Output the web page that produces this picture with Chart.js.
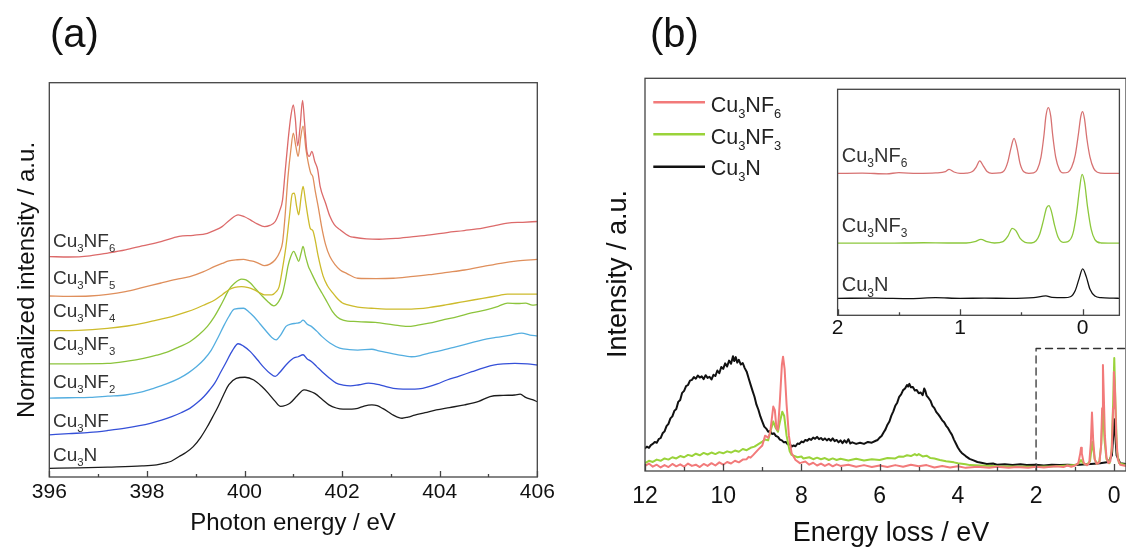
<!DOCTYPE html>
<html>
<head>
<meta charset="utf-8">
<script src="https://cdn.jsdelivr.net/npm/chart.js@4.4.1/dist/chart.umd.min.js"></script>
<style>
  html, body { margin: 0; padding: 0; background: #fff; overflow: hidden; width: 1126px; height: 550px; }
  canvas { position: absolute; }
  #nexafsChart { left: 0; top: 0; }
  #rixsChart { left: 580px; top: 0; }
  #insetChart { left: 800px; top: 60px; }
</style>
</head>
<body>
<canvas id="nexafsChart" width="560" height="550"></canvas>
<canvas id="rixsChart" width="560" height="550"></canvas>
<canvas id="insetChart" width="340" height="300"></canvas>
<script>
// ---- data: (a) N K-edge spectra, [photon energy eV, offset intensity]
const photonTicks = [396, 398, 400, 402, 404, 406];
const photonMinor = [397, 399, 401, 403, 405];
const filmLabels = ['Cu_3N', 'Cu_3NF', 'Cu_3NF_2', 'Cu_3NF_3', 'Cu_3NF_4', 'Cu_3NF_5', 'Cu_3NF_6'];

const nexCu3N = [[396,2.2],[396.6,2.3],[397.2,2.5],[397.9,2.8],[398.2,3.1],[398.36,3.5],[398.5,4.0],[398.66,5.2],[398.8,6.2],[398.95,7.7],[399.1,10.0],[399.24,12.8],[399.35,15.3],[399.46,17.9],[399.57,20.8],[399.68,23.4],[399.83,25.0],[400.01,25.3],[400.19,24.6],[400.35,23.0],[400.49,21.2],[400.62,19.3],[400.74,17.9],[400.85,18.2],[400.93,18.7],[401.08,20.6],[401.22,22.1],[401.33,21.8],[401.44,21.2],[401.6,19.6],[401.73,18.3],[401.88,17.5],[402.02,17.2],[402.2,17.2],[402.32,17.4],[402.45,18.0],[402.61,18.3],[402.72,18.1],[402.83,17.4],[402.95,16.5],[403.05,15.7],[403.23,14.9],[403.35,15.2],[403.49,15.7],[403.7,16.3],[403.93,17.0],[404.2,17.6],[404.51,18.3],[404.8,19.2],[405.03,20.4],[405.3,20.7],[405.54,20.8],[405.65,21.0],[405.76,20.2],[405.9,19.6],[406,19.1]];
const nexCu3NF = [[396,10.7],[396.4,11.0],[396.83,11.3],[397.2,11.8],[397.56,12.4],[398.07,13.6],[398.3,14.4],[398.51,15.3],[398.7,16.3],[398.88,17.4],[399.03,18.8],[399.17,20.4],[399.28,22.0],[399.39,23.8],[399.5,26.3],[399.61,28.8],[399.74,31.8],[399.87,33.8],[399.98,33.2],[400.12,31.8],[400.26,29.8],[400.41,27.6],[400.52,26.3],[400.63,25.5],[400.72,26.5],[400.85,28.4],[401.0,30.1],[401.1,30.5],[401.2,31.0],[401.28,30.0],[401.37,29.3],[401.48,28.0],[401.59,26.7],[401.73,25.2],[401.88,23.8],[402.02,23.3],[402.17,23.1],[402.35,23.4],[402.54,23.8],[402.65,23.7],[402.76,23.4],[402.9,22.9],[403.05,22.5],[403.25,22.3],[403.49,22.3],[403.65,22.5],[403.78,22.9],[403.95,23.6],[404.15,24.6],[404.4,25.6],[404.66,26.7],[404.9,27.7],[405.1,28.4],[405.3,28.7],[405.54,28.8],[405.8,28.7],[406,28.4]];
const nexCu3NF2 = [[396,20.0],[396.4,20.1],[396.83,20.2],[397.2,20.5],[397.56,20.8],[397.9,21.6],[398.14,22.5],[398.4,23.6],[398.66,25.0],[398.85,26.4],[399.02,28.0],[399.17,29.8],[399.32,32.2],[399.45,35.2],[399.57,38.2],[399.68,40.7],[399.79,42.6],[399.98,42.8],[400.08,42.0],[400.19,40.7],[400.32,38.8],[400.45,36.9],[400.56,35.4],[400.65,34.8],[400.74,36.0],[400.85,38.2],[400.95,38.8],[401.07,39.0],[401.14,39.2],[401.2,39.8],[401.28,38.8],[401.37,38.2],[401.48,37.0],[401.59,35.6],[401.75,34.0],[401.95,32.7],[402.15,32.3],[402.32,32.2],[402.61,32.4],[402.75,32.0],[402.9,31.6],[403.15,31.0],[403.42,30.5],[403.6,30.8],[403.78,31.4],[404.0,32.0],[404.29,32.9],[404.6,33.9],[404.88,34.8],[405.15,35.4],[405.46,36.0],[405.68,36.5],[405.85,36.0],[406,35.8]];
const nexCu3NF3 = [[396,28.7],[396.6,28.7],[397.19,28.8],[397.6,29.4],[397.93,30.1],[398.2,30.9],[398.44,31.8],[398.66,33.0],[398.88,34.3],[399.06,36.0],[399.24,38.2],[399.38,40.6],[399.5,43.2],[399.6,45.6],[399.68,47.5],[399.8,49.2],[399.94,50.2],[400.03,50.0],[400.12,49.2],[400.22,47.8],[400.34,46.2],[400.47,44.6],[400.6,43.4],[400.7,44.5],[400.78,46.6],[400.84,50.0],[400.89,53.4],[400.95,56.0],[401.01,57.2],[401.06,56.0],[401.11,54.7],[401.16,56.8],[401.2,58.5],[401.25,56.0],[401.31,53.4],[401.35,52.3],[401.4,51.0],[401.5,48.5],[401.59,46.6],[401.7,44.2],[401.8,42.0],[401.9,40.6],[402.02,39.8],[402.32,39.4],[402.68,39.2],[403.05,38.6],[403.34,38.2],[403.55,38.5],[403.78,39.0],[404.05,39.8],[404.37,40.7],[404.65,41.6],[404.95,42.4],[405.2,43.3],[405.39,44.1],[405.6,44.0],[405.76,44.1],[405.9,43.6],[406,43.7]];
const nexCu3NF4 = [[396,37.1],[396.6,37.2],[397.19,37.7],[397.6,38.3],[397.93,39.0],[398.2,39.8],[398.51,40.7],[398.8,41.8],[399.02,42.8],[399.2,43.8],[399.39,44.9],[399.55,46.3],[399.68,47.5],[399.8,48.1],[399.94,48.3],[400.08,48.0],[400.19,47.5],[400.3,46.8],[400.41,46.2],[400.56,46.2],[400.65,47.0],[400.71,48.3],[400.78,53.0],[400.85,58.5],[400.92,66.0],[400.98,71.8],[401.02,72.0],[401.07,68.5],[401.11,66.5],[401.16,71.0],[401.2,73.7],[401.25,70.0],[401.3,66.0],[401.35,63.0],[401.4,62.5],[401.45,60.0],[401.51,56.0],[401.61,51.0],[401.7,48.5],[401.8,46.8],[401.88,45.6],[402.0,44.2],[402.1,43.7],[402.32,43.1],[402.6,42.8],[402.9,42.6],[403.42,42.6],[403.8,43.0],[404.15,43.7],[404.5,44.5],[404.88,45.3],[405.2,46.0],[405.39,46.4],[405.7,46.4],[406,46.4]];
const nexCu3NF5 = [[396,45.9],[396.4,45.8],[396.83,45.9],[397.2,46.3],[397.56,47.0],[397.9,48.0],[398.29,49.2],[398.6,50.1],[398.88,50.8],[399.15,52.0],[399.39,53.4],[399.55,54.2],[399.68,54.8],[399.85,55.1],[399.98,55.2],[400.1,54.9],[400.19,54.7],[400.3,54.1],[400.41,53.6],[400.52,54.0],[400.63,55.1],[400.72,57.0],[400.78,59.5],[400.83,66.0],[400.89,76.0],[400.95,83.0],[401.0,87.2],[401.05,84.0],[401.1,81.3],[401.15,86.0],[401.2,89.0],[401.26,83.0],[401.31,79.5],[401.36,77.0],[401.4,76.2],[401.45,72.5],[401.51,68.6],[401.58,63.5],[401.66,59.0],[401.75,55.9],[401.86,53.8],[401.96,52.5],[402.1,51.6],[402.32,50.4],[402.7,50.3],[403.05,50.4],[403.4,50.8],[403.78,51.3],[404.15,51.9],[404.51,52.5],[404.9,53.4],[405.25,54.2],[405.6,54.8],[406,55.2]];
const nexCu3NF6 = [[396,55.9],[396.4,55.8],[396.83,56.1],[397.2,56.8],[397.56,57.6],[397.9,58.6],[398.29,59.7],[398.66,61.0],[398.95,61.3],[399.24,61.8],[399.4,62.6],[399.54,63.5],[399.7,65.2],[399.87,66.5],[400.0,66.0],[400.12,65.2],[400.26,64.2],[400.41,63.5],[400.52,63.8],[400.63,64.8],[400.72,67.5],[400.78,70.3],[400.83,77.0],[400.89,85.0],[400.95,91.5],[401.0,94.4],[401.04,91.0],[401.09,84.0],[401.14,89.0],[401.19,95.5],[401.23,90.0],[401.28,82.5],[401.33,81.3],[401.38,82.6],[401.44,80.0],[401.5,77.9],[401.55,73.7],[401.66,69.5],[401.75,66.1],[401.84,64.0],[401.96,62.7],[402.16,61.0],[402.24,60.8],[402.5,60.4],[402.76,60.3],[403.1,60.5],[403.42,60.9],[403.8,61.4],[404.15,62.0],[404.5,62.5],[404.88,63.1],[405.15,63.8],[405.39,64.4],[405.7,64.6],[406,64.8]];

// ---- data: (b) RIXS, [energy loss eV, intensity]
const lossTicks = [12, 10, 8, 6, 4, 2, 0];
const lossMinor = [11, 9, 7, 5, 3, 1];
const rixsLabels = ['Cu_3NF_6', 'Cu_3NF_3', 'Cu_3N'];

const rixsCu3N = [[12.0,5.8],[11.95,6.2],[11.9,5.9],[11.85,6.6],[11.8,6.9],[11.75,7.4],[11.7,7.2],[11.65,8.1],[11.6,8.4],[11.55,9.6],[11.5,10.1],[11.45,11.4],[11.4,12.0],[11.35,13.4],[11.3,13.9],[11.25,15.3],[11.2,15.8],[11.15,17.6],[11.1,18.1],[11.05,19.9],[11.0,20.4],[10.95,21.6],[10.9,21.9],[10.85,23.0],[10.8,23.2],[10.75,23.9],[10.7,23.5],[10.65,24.3],[10.6,23.8],[10.55,24.1],[10.5,23.4],[10.45,24.4],[10.4,23.7],[10.35,24.0],[10.3,23.3],[10.25,24.5],[10.2,24.2],[10.15,25.6],[10.1,24.9],[10.05,26.5],[10.0,26.0],[9.95,27.4],[9.9,26.6],[9.85,28.1],[9.8,27.3],[9.75,29.2],[9.72,28.0],[9.68,29.0],[9.64,27.6],[9.6,28.3],[9.55,27.1],[9.5,27.5],[9.45,26.2],[9.4,25.3],[9.35,23.6],[9.3,22.0],[9.25,20.4],[9.2,18.9],[9.15,16.9],[9.1,15.6],[9.05,13.9],[9.0,12.6],[8.95,11.3],[8.9,10.8],[8.85,10.0],[8.8,10.2],[8.75,9.4],[8.7,9.6],[8.65,8.9],[8.6,8.7],[8.55,8.0],[8.5,7.8],[8.45,7.3],[8.4,7.4],[8.35,6.8],[8.3,6.9],[8.25,6.2],[8.2,6.5],[8.15,6.3],[8.1,7.0],[8.05,6.9],[8.0,7.5],[7.95,7.3],[7.9,7.9],[7.85,7.7],[7.8,8.2],[7.75,7.9],[7.7,8.5],[7.65,8.2],[7.6,8.7],[7.55,8.1],[7.5,8.4],[7.45,7.9],[7.4,8.3],[7.35,7.8],[7.3,8.2],[7.25,7.7],[7.2,8.3],[7.15,7.6],[7.1,7.9],[7.05,7.3],[7.0,7.8],[6.95,7.1],[6.9,7.8],[6.85,7.2],[6.8,8.1],[6.75,7.0],[6.7,7.3],[6.6,6.9],[6.5,7.2],[6.4,6.9],[6.3,7.4],[6.2,7.2],[6.1,7.7],[6.05,7.9],[6.0,8.5],[5.95,8.9],[5.9,9.8],[5.85,10.6],[5.8,11.8],[5.75,12.6],[5.7,14.1],[5.65,15.2],[5.6,16.6],[5.55,17.4],[5.5,18.9],[5.45,19.5],[5.4,20.6],[5.35,21.0],[5.3,21.9],[5.27,21.5],[5.24,22.2],[5.2,21.3],[5.15,21.4],[5.1,20.5],[5.05,20.6],[5.0,19.8],[4.95,20.0],[4.9,19.3],[4.86,21.0],[4.83,20.4],[4.8,19.2],[4.75,18.6],[4.7,17.9],[4.65,16.6],[4.6,16.0],[4.55,15.0],[4.5,14.4],[4.45,13.7],[4.4,12.9],[4.35,12.4],[4.3,11.5],[4.25,10.9],[4.2,10.0],[4.15,9.2],[4.1,8.0],[4.05,7.0],[4.0,6.0],[3.95,5.2],[3.9,4.6],[3.8,3.8],[3.7,3.1],[3.6,2.7],[3.5,2.3],[3.4,2.1],[3.26,1.8],[3.1,1.9],[3.0,1.6],[2.8,1.7],[2.6,1.5],[2.4,1.7],[2.24,1.5],[2.0,1.6],[1.8,1.4],[1.6,1.6],[1.4,1.5],[1.2,1.6],[1.05,1.5],[0.9,1.6],[0.6,1.8],[0.36,2.0],[0.15,2.3],[0.06,4.0],[0.02,10.0],[0.0,13.2],[-0.02,10.0],[-0.06,4.0],[-0.15,2.0],[-0.3,1.8]];
const rixsCu3NF3 = [[12.0,2.0],[11.9,2.6],[11.8,2.3],[11.7,2.9],[11.6,2.6],[11.5,3.2],[11.4,2.9],[11.3,3.5],[11.2,3.2],[11.1,3.8],[11.0,3.5],[10.9,4.1],[10.8,3.8],[10.7,4.4],[10.6,4.0],[10.5,4.6],[10.4,4.2],[10.3,4.7],[10.2,4.3],[10.1,4.8],[10.0,4.5],[9.9,5.0],[9.8,4.7],[9.7,5.2],[9.6,4.9],[9.5,5.6],[9.4,5.3],[9.3,5.9],[9.2,6.2],[9.14,6.6],[9.0,7.5],[8.93,8.0],[8.85,7.8],[8.78,10.5],[8.72,12.6],[8.66,11.0],[8.6,10.0],[8.55,12.5],[8.49,15.1],[8.44,14.0],[8.38,9.0],[8.3,5.0],[8.25,4.1],[8.1,3.5],[8.0,3.7],[7.95,3.2],[7.8,3.5],[7.7,3.0],[7.6,3.4],[7.5,3.0],[7.4,3.3],[7.3,2.8],[7.2,3.2],[7.1,2.8],[7.0,3.1],[6.8,2.7],[6.6,3.1],[6.4,2.7],[6.2,3.0],[6.0,2.8],[5.8,3.3],[5.6,3.2],[5.5,3.7],[5.4,3.6],[5.3,4.0],[5.2,3.8],[5.1,4.3],[5.05,4.0],[5.0,4.3],[4.9,3.7],[4.8,3.9],[4.7,3.3],[4.6,3.2],[4.46,2.8],[4.3,2.5],[4.1,2.2],[4.0,2.0],[3.8,1.7],[3.69,1.5],[3.0,1.2],[2.0,1.1],[1.5,1.2],[1.0,1.5],[0.9,2.0],[0.85,2.8],[0.8,2.0],[0.7,1.6],[0.62,2.5],[0.56,7.4],[0.5,3.0],[0.45,1.8],[0.38,2.5],[0.33,7.0],[0.29,16.4],[0.25,8.0],[0.2,3.0],[0.12,2.0],[0.07,5.0],[0.03,17.0],[0.0,28.8],[-0.03,17.0],[-0.07,5.0],[-0.12,2.0],[-0.3,1.5]];
const rixsCu3NF6 = [[12.0,1.3],[11.9,1.9],[11.8,1.1],[11.7,1.6],[11.6,0.9],[11.5,1.5],[11.4,1.0],[11.3,1.8],[11.2,1.2],[11.1,1.7],[11.0,1.1],[10.9,1.9],[10.8,1.3],[10.7,1.6],[10.6,1.0],[10.5,1.8],[10.4,1.3],[10.3,2.0],[10.2,1.4],[10.1,2.2],[10.0,1.6],[9.9,2.3],[9.8,1.9],[9.7,2.6],[9.6,2.2],[9.5,2.9],[9.4,3.0],[9.35,3.6],[9.3,3.4],[9.23,4.1],[9.1,5.5],[9.0,6.5],[8.93,9.0],[8.85,8.5],[8.8,9.8],[8.76,13.0],[8.72,16.4],[8.68,15.5],[8.64,11.0],[8.6,10.5],[8.55,18.0],[8.5,27.0],[8.47,29.1],[8.43,26.0],[8.38,17.0],[8.32,9.0],[8.25,4.5],[8.15,2.8],[8.04,2.0],[7.9,2.4],[7.8,1.6],[7.7,2.1],[7.6,1.4],[7.5,1.9],[7.4,1.3],[7.3,1.8],[7.2,1.2],[7.1,1.7],[7.0,1.3],[6.8,1.6],[6.6,1.1],[6.4,1.5],[6.2,1.0],[6.0,1.4],[5.8,1.0],[5.6,1.5],[5.4,1.1],[5.2,1.6],[5.0,1.2],[4.8,1.5],[4.6,0.9],[4.4,1.3],[4.2,0.9],[4.0,1.2],[3.8,0.8],[3.5,1.1],[3.2,0.8],[3.0,1.1],[2.7,0.8],[2.5,1.0],[2.2,0.8],[2.0,1.1],[1.8,0.9],[1.5,1.2],[1.3,1.0],[1.2,1.4],[1.1,1.1],[1.0,1.4],[0.92,2.0],[0.87,4.5],[0.85,5.9],[0.83,4.5],[0.78,2.0],[0.7,1.5],[0.64,2.0],[0.6,7.0],[0.57,14.9],[0.54,8.0],[0.5,3.0],[0.45,1.8],[0.38,2.2],[0.34,6.0],[0.31,16.0],[0.29,27.0],[0.27,20.0],[0.24,9.0],[0.2,3.5],[0.15,2.0],[0.1,2.5],[0.06,6.0],[0.03,16.0],[0.01,25.2],[-0.02,20.0],[-0.05,9.0],[-0.09,3.0],[-0.15,1.6],[-0.3,1.3]];
const zoomBox = [[2,0],[2,31.2],[-0.3,31.2]];

// ---- data: inset, low-loss region
const insetTicks = [2, 1, 0];
const insetMinor = [1.5, 0.5];
const insetCu3NF6 = [[2.0,62.8],[1.8,62.9],[1.6,62.6],[1.5,63.1],[1.35,62.8],[1.2,63.0],[1.12,63.6],[1.09,64.6],[1.05,63.4],[1.0,62.8],[0.95,62.9],[0.9,63.6],[0.87,65.5],[0.84,68.3],[0.81,66.0],[0.78,63.6],[0.74,62.8],[0.68,63.0],[0.64,64.0],[0.61,68.0],[0.585,74.0],[0.56,78.3],[0.535,74.0],[0.51,67.0],[0.48,63.5],[0.44,62.8],[0.4,63.0],[0.37,64.5],[0.34,70.0],[0.315,80.0],[0.3,88.0],[0.28,91.9],[0.26,88.0],[0.245,80.0],[0.22,70.0],[0.19,64.5],[0.16,63.0],[0.12,63.3],[0.09,65.5],[0.06,71.0],[0.035,80.0],[0.015,88.0],[0.0,90.1],[-0.015,87.0],[-0.035,78.0],[-0.06,70.0],[-0.09,65.0],[-0.12,63.3],[-0.18,62.8],[-0.3,62.8]];
const insetCu3NF3 = [[2.0,31.9],[1.6,31.9],[1.3,32.1],[1.1,32.0],[0.95,32.0],[0.88,32.6],[0.83,33.6],[0.78,32.6],[0.72,32.0],[0.65,32.6],[0.61,35.0],[0.575,38.5],[0.545,37.5],[0.51,34.0],[0.47,32.3],[0.42,32.0],[0.38,33.0],[0.35,36.0],[0.32,42.0],[0.295,47.5],[0.275,48.5],[0.255,46.0],[0.23,40.0],[0.2,34.5],[0.16,32.3],[0.12,32.6],[0.08,36.0],[0.05,45.0],[0.025,56.0],[0.005,62.4],[-0.015,59.0],[-0.04,48.0],[-0.07,38.0],[-0.1,33.5],[-0.15,32.0],[-0.3,31.9]];
const insetCu3N = [[2.0,7.5],[1.7,7.6],[1.4,7.4],[1.2,7.8],[1.0,7.5],[0.8,7.6],[0.6,7.5],[0.4,7.8],[0.3,8.6],[0.25,7.9],[0.15,7.8],[0.1,8.2],[0.06,11.0],[0.03,16.0],[0.0,20.5],[-0.03,17.0],[-0.06,11.5],[-0.1,8.5],[-0.15,7.8],[-0.25,7.6],[-0.3,7.5]];

// ---- styling
const FONT = '"Liberation Sans", Arial, Helvetica, sans-serif';
const filmColors = ['#1c1c1c', '#3550d8', '#54aee0', '#8cc43c', '#cdbb2c', '#df8f5c', '#dc6a6a'];
const rixsColors = ['#f27a7a', '#9ad33a', '#111111'];
const insetColors = ['#d77272', '#8cc83c', '#111111'];

Chart.defaults.font.family = FONT;
Chart.defaults.color = '#111';

const toXY = pts => pts.map(([x, y]) => ({ x, y }));

// "Cu_3NF_6" -> [["Cu",false],["3",true],["NF",false],["6",true]]
function parseChem(s) {
  const parts = [];
  s.split(/(_\d)/).forEach(p => {
    if (!p) return;
    if (p[0] === '_') parts.push([p.slice(1), true]);
    else parts.push([p, false]);
  });
  return parts;
}

function richText(ctx, str, x, y, size, align) {
  const parts = parseChem(str);
  const subSize = size * 0.6;
  const fontFor = sub => `${sub ? subSize : size}px ${FONT}`;
  let w = 0;
  parts.forEach(([t, sub]) => { ctx.font = fontFor(sub); w += ctx.measureText(t).width; });
  let cx = align === 'center' ? x - w / 2 : x;
  ctx.textAlign = 'left';
  ctx.textBaseline = 'alphabetic';
  parts.forEach(([t, sub]) => {
    ctx.font = fontFor(sub);
    ctx.fillText(t, cx, sub ? y + size * 0.28 : y);
    cx += ctx.measureText(t).width;
  });
}

// box round the plot + inward tick marks on the x axis
const framePlugin = {
  id: 'frame',
  afterDatasetsDraw(chart, args, opts) {
    const { ctx, chartArea: a } = chart;
    const x = chart.scales.x;
    ctx.save();
    ctx.strokeStyle = opts.color;
    ctx.lineWidth = opts.width;
    ctx.strokeRect(a.left, a.top, a.right - a.left, a.bottom - a.top);
    ctx.beginPath();
    const tick = (v, len) => {
      const px = Math.round(x.getPixelForValue(v)) + 0.5;
      ctx.moveTo(px, a.bottom);
      ctx.lineTo(px, a.bottom - len);
    };
    opts.major.forEach(v => tick(v, opts.majorLen));
    opts.minor.forEach(v => tick(v, opts.minorLen));
    ctx.stroke();
    ctx.restore();
  }
};

// axis titles, panel letters, curve names, legend swatches
const textPlugin = {
  id: 'texts',
  afterDraw(chart, args, opts) {
    const ctx = chart.ctx;
    (opts.swatches || []).forEach(s => {
      ctx.save();
      ctx.strokeStyle = s.color;
      ctx.lineWidth = s.width;
      ctx.beginPath();
      ctx.moveTo(s.x0, s.y);
      ctx.lineTo(s.x1, s.y);
      ctx.stroke();
      ctx.restore();
    });
    (opts.items || []).forEach(it => {
      ctx.save();
      ctx.fillStyle = it.color || '#111';
      ctx.translate(it.x, it.y);
      if (it.rotate) ctx.rotate(-Math.PI / 2);
      richText(ctx, it.text, 0, 0, it.size, it.align);
      ctx.restore();
    });
  }
};

function makeChart(id, datasets, cfg) {
  return new Chart(document.getElementById(id), {
    type: 'line',
    data: { datasets },
    plugins: [framePlugin, textPlugin],
    options: {
      responsive: false,
      animation: false,
      devicePixelRatio: 1,
      layout: { padding: cfg.padding },
      elements: { point: { radius: 0 }, line: { borderCapStyle: 'round', borderJoinStyle: 'round' } },
      plugins: {
        legend: { display: false },
        tooltip: { enabled: false },
        frame: { color: '#444', width: 1.3, major: cfg.ticks, minor: cfg.minor, majorLen: cfg.majorLen, minorLen: cfg.minorLen },
        texts: { items: cfg.texts, swatches: cfg.swatches || [] }
      },
      scales: {
        x: {
          type: 'linear',
          min: cfg.min,
          max: cfg.max,
          reverse: !!cfg.reverse,
          grid: { display: false, drawTicks: false },
          border: { display: false },
          ticks: { font: { size: cfg.tickSize }, color: '#111', padding: cfg.tickPad, maxRotation: 0 },
          afterBuildTicks: s => { s.ticks = cfg.ticks.map(v => ({ value: v })); },
          afterFit: s => { s.height = cfg.axisHeight; }
        },
        y: { display: false, min: 0, max: 100 }
      }
    }
  });
}

// (a)
const nexSeries = [nexCu3N, nexCu3NF, nexCu3NF2, nexCu3NF3, nexCu3NF4, nexCu3NF5, nexCu3NF6];
const labelBaselines = [461, 426.5, 388, 350, 317, 284, 246.5];
makeChart('nexafsChart',
  nexSeries.map((s, i) => ({
    label: filmLabels[i], data: toXY(s), borderColor: filmColors[i],
    borderWidth: 1.3, cubicInterpolationMode: 'monotone', fill: false
  })).reverse(),
  {
    padding: { left: 49.3, top: 82.7, right: 22.7, bottom: 33 },
    min: 396, max: 406, ticks: photonTicks, minor: photonMinor, majorLen: 6, minorLen: 3,
    tickSize: 21, tickPad: 3, axisHeight: 40,
    texts: [
      { text: '(a)', x: 50, y: 47, size: 40 },
      { text: 'Photon energy / eV', x: 293, y: 530, size: 24, align: 'center' },
      { text: 'Normalized intensity / a.u.', x: 34, y: 280, size: 24, align: 'center', rotate: true },
      ...filmLabels.map((t, i) => ({ text: t, x: 53, y: labelBaselines[i], size: 19, color: '#333' }))
    ]
  });

// (b)
const rixsSeries = [rixsCu3NF6, rixsCu3NF3, rixsCu3N];
makeChart('rixsChart',
  [
    ...rixsSeries.map((s, i) => ({
      label: rixsLabels[i], data: toXY(s), borderColor: rixsColors[i], borderWidth: 2, tension: 0, fill: false
    })),
    { label: 'zoom', data: toXY(zoomBox), borderColor: '#333', borderWidth: 1.3, borderDash: [7, 5], tension: 0, fill: false }
  ],
  {
    padding: { left: 65, top: 78.3, right: 14, bottom: 34 },
    min: -0.3, max: 12, reverse: true, ticks: lossTicks, minor: lossMinor, majorLen: 7, minorLen: 4,
    tickSize: 23, tickPad: 12, axisHeight: 45,
    texts: [
      { text: '(b)', x: 70, y: 47, size: 40 },
      { text: 'Energy loss / eV', x: 311, y: 541, size: 27, align: 'center' },
      { text: 'Intensity / a.u.', x: 45.5, y: 274, size: 27, align: 'center', rotate: true },
      ...rixsLabels.map((t, i) => ({ text: t, x: 130.7, y: [111.7, 143.5, 175][i], size: 21.5, color: '#222' }))
    ],
    swatches: rixsColors.map((c, i) => ({ color: c, width: 2.5, x0: 73.3, x1: 125, y: [102.3, 134.3, 166.7][i] }))
  });

// inset
const insetSeries = [insetCu3NF6, insetCu3NF3, insetCu3N];
makeChart('insetChart',
  insetSeries.map((s, i) => ({
    label: rixsLabels[i], data: toXY(s), borderColor: insetColors[i],
    borderWidth: 1.3, cubicInterpolationMode: 'monotone', fill: false
  })),
  {
    padding: { left: 37.6, top: 29.3, right: 20.6, bottom: 14.7 },
    min: -0.3, max: 2, reverse: true, ticks: insetTicks, minor: insetMinor, majorLen: 6, minorLen: 3,
    tickSize: 21, tickPad: 0, axisHeight: 30,
    texts: rixsLabels.map((t, i) => ({ text: t, x: 41.8, y: [101.7, 171.7, 231][i], size: 20, color: '#333' }))
  });
</script>
</body>
</html>
